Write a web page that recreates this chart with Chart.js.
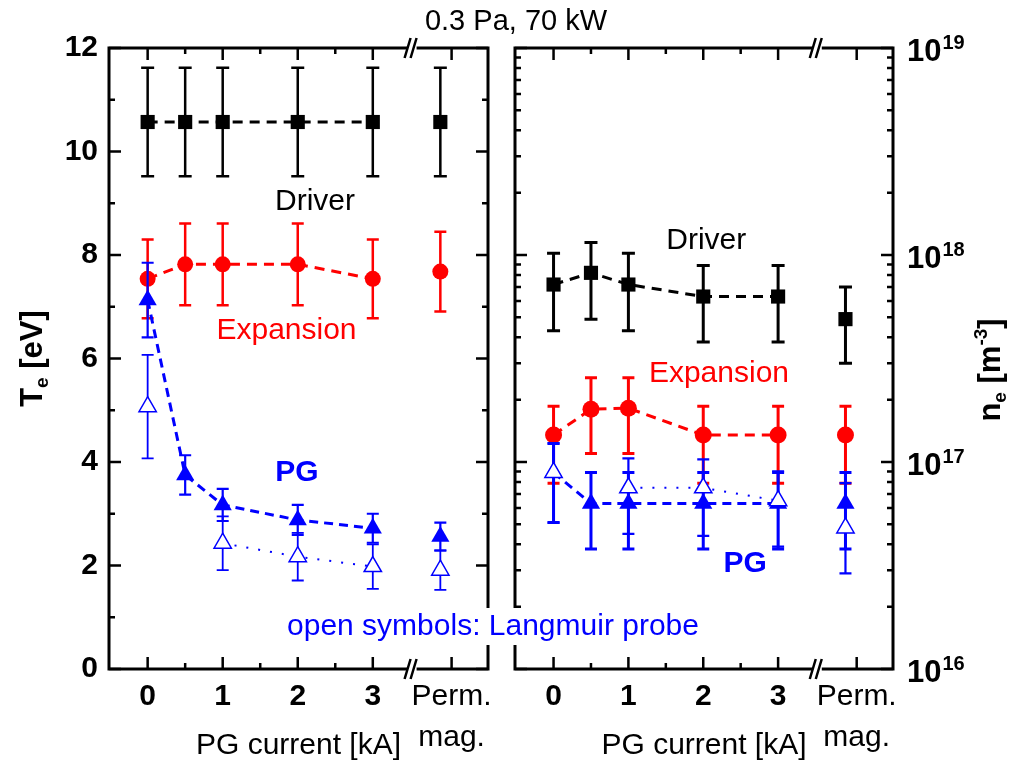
<!DOCTYPE html>
<html>
<head>
<meta charset="utf-8">
<title>Te and ne vs PG current</title>
<script src="https://cdn.jsdelivr.net/npm/chart.js@4.4.1/dist/chart.umd.min.js"></script>
<style>
  body { margin: 0; background: #fff; }
  #wrap { position: relative; width: 1019px; height: 765px; }
  canvas { position: absolute; left: 0; top: 0; }
</style>
</head>
<body>
<div id="wrap">
  <canvas id="te" width="1019" height="765"></canvas>
  <canvas id="ne" width="1019" height="765"></canvas>
</div>
<script>
var F = '"Liberation Sans", Arial, sans-serif';
Chart.defaults.font.family = F;

// x position of each measurement; the last slot is the permanent magnet case (behind the axis break)
var currentPos = [0, 0.5, 1, 2, 3, 3.9];
var tickPos = [0, 1, 2, 3, 4.05];
var tickLabels = ['0', '1', '2', '3', ['Perm.', 'mag.']];
var minorPos = [0.5, 1.5, 2.5];
var breakPos = 3.53;

// electron temperature [eV] and its error
var teDriver = [10.57, 10.57, 10.57, 10.57, 10.57, 10.57];
var teDriverErr = [1.05, 1.05, 1.05, 1.05, 1.05, 1.05];
var teExpansion = [7.54, 7.82, 7.82, 7.82, 7.54, 7.68];
var teExpansionErr = [0.76, 0.79, 0.79, 0.79, 0.76, 0.77];
var tePG = [7.13, 3.75, 3.17, 2.88, 2.72, 2.56];
var tePGErr = [0.72, 0.38, 0.31, 0.29, 0.28, 0.27];
var tePGProbe = [5.07, null, 2.43, 2.17, 1.98, 1.91];
var tePGProbeErr = [1.0, null, 0.52, 0.46, 0.43, 0.38];
var teMajor = [0, 2, 4, 6, 8, 10, 12];
var teMinor = [1, 3, 5, 7, 9, 11];

// electron density [m^-3], lower and upper error limits
var neDriver = [7.2e17, 8.2e17, 7.2e17, 6.3e17, 6.3e17, 4.9e17];
var neDriverLo = [4.3e17, 4.9e17, 4.3e17, 3.8e17, 3.8e17, 3.0e17];
var neDriverHi = [1.02e18, 1.15e18, 1.02e18, 8.9e17, 8.9e17, 7.0e17];
var neExpansion = [1.35e17, 1.8e17, 1.82e17, 1.35e17, 1.35e17, 1.35e17];
var neExpansionLo = [7.9e16, 1.1e17, 1.1e17, 7.9e16, 7.9e16, 7.9e16];
var neExpansionHi = [1.86e17, 2.55e17, 2.55e17, 1.86e17, 1.86e17, 1.86e17];
var nePG = [8.9e16, 6.3e16, 6.3e16, 6.3e16, 6.3e16, 6.3e16];
var nePGLo = [5.1e16, 3.8e16, 3.8e16, 3.8e16, 3.8e16, 3.8e16];
var nePGHi = [1.23e17, 8.9e16, 8.9e16, 8.9e16, 8.9e16, 8.9e16];
var nePGProbe = [8.9e16, null, 7.5e16, 7.5e16, 6.5e16, 4.8e16];
var nePGProbeLo = [5.1e16, null, 4.5e16, 4.4e16, 3.9e16, 2.9e16];
var nePGProbeHi = [1.23e17, null, 1.04e17, 1.03e17, 9.0e16, 7.9e16];
var neMajor = [1e16, 1e17, 1e18, 1e19];

var BLACK = '#000000', RED = '#ff0000', BLUE = '#0000ff';

function pts(vals) {
  return vals.map(function (v, i) { return { x: currentPos[i], y: v }; });
}
function minus(v, e) { return v.map(function (a, i) { return a == null ? null : a - e[i]; }); }
function plus(v, e) { return v.map(function (a, i) { return a == null ? null : a + e[i]; }); }

// no connecting line to the Perm. mag. point
function hideLast(color) {
  return { borderColor: function (c) { return c.p1DataIndex === currentPos.length - 1 ? 'rgba(0,0,0,0)' : color; } };
}

function series(o) {
  return {
    label: o.label,
    data: pts(o.vals),
    borderColor: o.color,
    backgroundColor: o.fill || o.color,
    pointBackgroundColor: o.fill || o.color,
    pointBorderColor: o.color,
    pointBorderWidth: o.fill ? 1.5 : 0,
    pointStyle: o.style,
    pointRadius: o.radius,
    borderWidth: o.width,
    borderDash: o.dash,
    tension: 0,
    fill: false,
    spanGaps: false,
    segment: hideLast(o.color),
    errLo: o.lo,
    errHi: o.hi,
    errWidth: o.errWidth,
    capHalf: o.cap
  };
}

// vertical error bars, drawn just before each dataset so its markers sit on top
var errorBars = {
  id: 'errorBars',
  beforeDatasetDraw: function (chart, args) {
    var ds = chart.data.datasets[args.index];
    if (!ds.errLo) return;
    var ctx = chart.ctx, ys = chart.scales.y;
    ctx.save();
    ctx.strokeStyle = ds.borderColor;
    ctx.lineWidth = ds.errWidth;
    args.meta.data.forEach(function (pt, i) {
      if (ds.errLo[i] == null) return;
      var x = pt.x;
      var y1 = ys.getPixelForValue(ds.errLo[i]);
      var y2 = ys.getPixelForValue(ds.errHi[i]);
      ctx.beginPath();
      ctx.moveTo(x, y1); ctx.lineTo(x, y2);
      ctx.moveTo(x - ds.capHalf, y1); ctx.lineTo(x + ds.capHalf, y1);
      ctx.moveTo(x - ds.capHalf, y2); ctx.lineTo(x + ds.capHalf, y2);
      ctx.stroke();
    });
    ctx.restore();
  }
};

// box frame with inward ticks on all four sides and the // break marks
function drawFrame(chart, yMajor, yMinor) {
  var ctx = chart.ctx, a = chart.chartArea, xs = chart.scales.x, ys = chart.scales.y;
  ctx.save();
  ctx.strokeStyle = BLACK;
  ctx.lineWidth = 3;
  ctx.strokeRect(a.left, a.top, a.right - a.left, a.bottom - a.top);
  ctx.lineWidth = 2.5;
  ctx.beginPath();
  function xt(v, len) {
    var x = xs.getPixelForValue(v);
    ctx.moveTo(x, a.bottom); ctx.lineTo(x, a.bottom - len);
    ctx.moveTo(x, a.top); ctx.lineTo(x, a.top + len);
  }
  function yt(v, len) {
    var y = ys.getPixelForValue(v);
    ctx.moveTo(a.left, y); ctx.lineTo(a.left + len, y);
    ctx.moveTo(a.right, y); ctx.lineTo(a.right - len, y);
  }
  tickPos.forEach(function (v) { xt(v, 12); });
  minorPos.forEach(function (v) { xt(v, 6); });
  yMajor.forEach(function (v) { yt(v, 12); });
  yMinor.forEach(function (v) { yt(v, 6); });
  ctx.stroke();

  var bx = xs.getPixelForValue(breakPos);
  [a.top, a.bottom].forEach(function (y) {
    ctx.fillStyle = '#fff';
    ctx.fillRect(bx - 5, y - 3, 9, 6);
    ctx.lineWidth = 2.5;
    ctx.beginPath();
    ctx.moveTo(bx - 8, y + 10); ctx.lineTo(bx - 2, y - 10);
    ctx.moveTo(bx - 2, y + 10); ctx.lineTo(bx + 4, y - 10);
    ctx.stroke();
  });
  ctx.restore();
}

// text pieces laid out in a row; shift > 0 lowers a piece (subscript), < 0 raises it
function drawRun(ctx, parts, cx, cy, rotate) {
  ctx.save();
  ctx.translate(cx, cy);
  if (rotate) ctx.rotate(-Math.PI / 2);
  ctx.textBaseline = 'alphabetic';
  ctx.textAlign = 'left';
  var total = 0;
  parts.forEach(function (p) { ctx.font = p.font; p.w = ctx.measureText(p.t).width; total += p.w; });
  var x = -total / 2;
  parts.forEach(function (p) {
    ctx.font = p.font;
    ctx.fillStyle = p.color || BLACK;
    ctx.fillText(p.t, x, 11 + (p.shift || 0));
    x += p.w;
  });
  ctx.restore();
}

function note(chart, text, xv, yv, color, weight) {
  var ctx = chart.ctx;
  ctx.save();
  ctx.font = (weight || 'normal') + ' 30px ' + F;
  ctx.fillStyle = color;
  ctx.textAlign = 'center';
  ctx.textBaseline = 'middle';
  ctx.fillText(text, chart.scales.x.getPixelForValue(xv), chart.scales.y.getPixelForValue(yv));
  ctx.restore();
}

var teDecor = {
  id: 'teDecor',
  afterDraw: function (chart) {
    drawFrame(chart, teMajor, teMinor);
    var a = chart.chartArea;
    drawRun(chart.ctx, [
      { t: 'T', font: 'bold 31px ' + F },
      { t: 'e', font: 'bold 19px ' + F, shift: 6 },
      { t: ' [eV]', font: 'bold 31px ' + F }
    ], 31, (a.top + a.bottom) / 2, true);
    note(chart, 'Driver', 2.23, 9.03, BLACK);
    note(chart, 'Expansion', 1.85, 6.53, RED);
    note(chart, 'PG', 1.99, 3.8, BLUE, 'bold');
  }
};

var neDecor = {
  id: 'neDecor',
  afterDraw: function (chart) {
    var ctx = chart.ctx, a = chart.chartArea, ys = chart.scales.y;
    var minors = [];
    neMajor.slice(0, 3).forEach(function (d) {
      for (var k = 2; k < 10; k++) minors.push(k * d);
    });
    drawFrame(chart, neMajor, minors);

    // decade labels 10^n on the right axis
    ctx.save();
    ctx.fillStyle = BLACK;
    ctx.textAlign = 'left';
    ctx.textBaseline = 'alphabetic';
    neMajor.forEach(function (v) {
      var y = ys.getPixelForValue(v);
      ctx.font = 'bold 31px ' + F;
      ctx.fillText('10', a.right + 14, y + 13);
      var w = ctx.measureText('10').width;
      ctx.font = 'bold 20px ' + F;
      ctx.fillText(String(Math.round(Math.log10(v))), a.right + 15 + w, y + 1);
    });
    ctx.restore();

    drawRun(ctx, [
      { t: 'n', font: 'bold 31px ' + F },
      { t: 'e', font: 'bold 19px ' + F, shift: 6 },
      { t: ' [m', font: 'bold 31px ' + F },
      { t: '-3', font: 'bold 19px ' + F, shift: -13 },
      { t: ']', font: 'bold 31px ' + F }
    ], 989, 370, true);

    note(chart, 'Driver', 2.04, 1.17e18, BLACK);
    note(chart, 'Expansion', 2.21, 2.66e17, RED);
    note(chart, 'PG', 2.56, 3.24e16, BLUE, 'bold');

    // shared annotations across both panels
    ctx.save();
    ctx.fillStyle = '#fff';
    ctx.fillRect(276, 608, 436, 37);
    ctx.textAlign = 'center';
    ctx.textBaseline = 'middle';
    ctx.font = '30px ' + F;
    ctx.fillStyle = BLUE;
    ctx.fillText('open symbols: Langmuir probe', 493, 627);
    ctx.font = '29px ' + F;
    ctx.fillStyle = BLACK;
    ctx.fillText('0.3 Pa, 70 kW', 516, 22);
    ctx.restore();
  }
};

function xAxis() {
  return {
    type: 'linear', min: -0.515, max: 4.535,
    grid: { display: false, drawTicks: false },
    border: { display: false },
    afterBuildTicks: function (s) { s.ticks = tickPos.map(function (v) { return { value: v }; }); },
    afterFit: function (s) { s.height = 96; },
    ticks: {
      autoSkip: false, maxRotation: 0, padding: 8, color: BLACK,
      callback: function (v, i) { return tickLabels[i]; },
      font: function (c) {
        return { family: F, size: 30, weight: c.index === tickPos.length - 1 ? 'normal' : 'bold', lineHeight: 1.34 };
      }
    },
    title: { display: true, text: 'PG current [kA]', color: BLACK, font: { family: F, size: 30 }, padding: { top: 0, bottom: 1 } }
  };
}

var common = {
  responsive: false,
  animation: false,
  devicePixelRatio: 1,
  plugins: { legend: { display: false }, tooltip: { enabled: false }, title: { display: false } }
};

new Chart(document.getElementById('te'), {
  type: 'line',
  data: {
    datasets: [
      series({ label: 'PG (Langmuir probe)', vals: tePGProbe, lo: minus(tePGProbe, tePGProbeErr), hi: plus(tePGProbe, tePGProbeErr),
        color: BLUE, fill: '#ffffff', style: 'triangle', radius: 10, width: 2, dash: [2, 10], errWidth: 1.8, cap: 6 }),
      series({ label: 'PG', vals: tePG, lo: minus(tePG, tePGErr), hi: plus(tePG, tePGErr),
        color: BLUE, style: 'triangle', radius: 10.5, width: 3, dash: [9, 6], errWidth: 2.2, cap: 6 }),
      series({ label: 'Expansion', vals: teExpansion, lo: minus(teExpansion, teExpansionErr), hi: plus(teExpansion, teExpansionErr),
        color: RED, style: 'circle', radius: 8, width: 3, dash: [10, 7], errWidth: 2.5, cap: 6 }),
      series({ label: 'Driver', vals: teDriver, lo: minus(teDriver, teDriverErr), hi: plus(teDriver, teDriverErr),
        color: BLACK, style: 'rect', radius: 10, width: 3, dash: [10, 7], errWidth: 2.5, cap: 6.5 })
    ]
  },
  options: Object.assign({}, common, {
    layout: { padding: { left: 0, top: 48, right: 531, bottom: 0 } },
    scales: {
      x: xAxis(),
      y: {
        type: 'linear', min: 0, max: 12,
        grid: { display: false, drawTicks: false },
        border: { display: false },
        afterFit: function (s) { s.width = 109; },
        ticks: { stepSize: 2, padding: 11, color: BLACK, font: { family: F, size: 30, weight: 'bold' } }
      }
    }
  }),
  plugins: [errorBars, teDecor]
});

new Chart(document.getElementById('ne'), {
  type: 'line',
  data: {
    datasets: [
      series({ label: 'PG (Langmuir probe)', vals: nePGProbe, lo: nePGProbeLo, hi: nePGProbeHi,
        color: BLUE, fill: '#ffffff', style: 'triangle', radius: 10, width: 2, dash: [2, 10], errWidth: 2.2, cap: 6 }),
      series({ label: 'PG', vals: nePG, lo: nePGLo, hi: nePGHi,
        color: BLUE, style: 'triangle', radius: 10.5, width: 3, dash: [9, 6], errWidth: 3, cap: 6 }),
      series({ label: 'Expansion', vals: neExpansion, lo: neExpansionLo, hi: neExpansionHi,
        color: RED, style: 'circle', radius: 8.5, width: 3, dash: [10, 7], errWidth: 3, cap: 6 }),
      series({ label: 'Driver', vals: neDriver, lo: neDriverLo, hi: neDriverHi,
        color: BLACK, style: 'rect', radius: 10, width: 3, dash: [10, 7], errWidth: 3, cap: 6.5 })
    ]
  },
  options: Object.assign({}, common, {
    layout: { padding: { left: 515, top: 48, right: 0, bottom: 0 } },
    scales: {
      x: xAxis(),
      y: {
        type: 'logarithmic', position: 'right', min: 1e16, max: 1e19,
        grid: { display: false, drawTicks: false },
        border: { display: false },
        afterFit: function (s) { s.width = 126; },
        ticks: { display: false }
      }
    }
  }),
  plugins: [errorBars, neDecor]
});
</script>
</body>
</html>
